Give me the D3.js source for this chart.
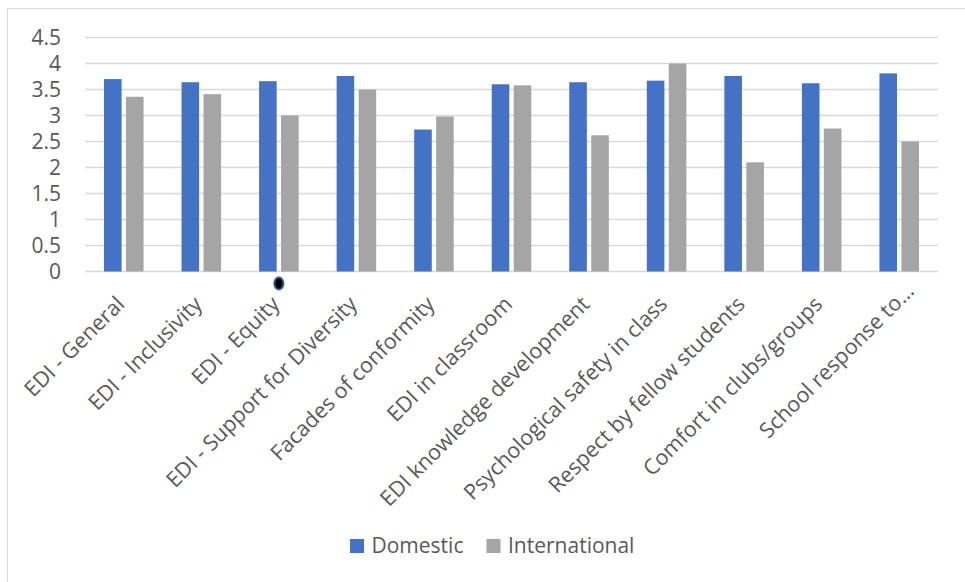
<!DOCTYPE html>
<html>
<head>
<meta charset="utf-8">
<script src="https://cdn.jsdelivr.net/npm/d3@7"></script>
<style>
  body { margin: 0; background: #fff; }
  text { font-family: "Open Sans", "Noto Sans", sans-serif; fill: #595959; }
</style>
</head>
<body>
<svg id="chart"></svg>
<script>
const categories = [
    "EDI - General", "EDI - Inclusivity", "EDI - Equity", "EDI - Support for Diversity",
    "Facades of conformity", "EDI in classroom", "EDI knowledge development",
    "Psychological safety in class", "Respect by fellow students",
    "Comfort in clubs/groups", "School response to…"
];
const domestic = [3.70, 3.64, 3.66, 3.76, 2.73, 3.60, 3.64, 3.67, 3.76, 3.62, 3.81];
const international = [3.36, 3.41, 3.00, 3.50, 2.98, 3.58, 2.62, 4.00, 2.10, 2.75, 2.50];
const seriesNames = ["Domestic", "International"];
const yTicks = [0, 0.5, 1, 1.5, 2, 2.5, 3, 3.5, 4, 4.5];

const colors = {Domestic: "#4472C4", International: "#A5A5A5"};

const W = 965, H = 582;
const plot = {left: 85, right: 938, top: 37.5, bottom: 271.5};

const svg = d3.select("#chart").attr("width", W).attr("height", H);

// chart frame
svg.append("rect")
    .attr("x", 7.5).attr("y", 8.5)
    .attr("width", W).attr("height", H)
    .attr("fill", "none")
    .attr("stroke", "#D9D9D9");

const x = d3.scaleBand()
    .domain(categories)
    .range([plot.left, plot.right])
    .paddingInner(0.49)
    .paddingOuter(0.245);

const xs = d3.scaleBand()
    .domain(seriesNames)
    .range([0, x.bandwidth()])
    .paddingInner(0.2);

const y = d3.scaleLinear().domain([0, 4.5]).range([plot.bottom, plot.top]);

// gridlines
svg.append("g")
    .selectAll("line")
    .data(yTicks)
    .join("line")
    .attr("x1", plot.left).attr("x2", plot.right)
    .attr("y1", d => y(d)).attr("y2", d => y(d))
    .attr("stroke", "#D9D9D9")
    .attr("stroke-width", 1.3);

// y axis labels
const yAxis = svg.append("g")
    .attr("transform", "translate(" + (plot.left - 24) + ",0)")
    .call(d3.axisLeft(y).tickValues(yTicks).tickSize(0).tickPadding(0).tickFormat(d3.format("")));
yAxis.select(".domain").remove();
yAxis.selectAll("text")
    .style("font-family", "'Open Sans', sans-serif")
    .style("font-size", "21px")
    .attr("fill", "#595959");

// bars
const rows = categories.map((c, i) => ({cat: c, values: [
    {key: "Domestic", value: domestic[i]},
    {key: "International", value: international[i]}
]}));

svg.append("g")
    .selectAll("g")
    .data(rows)
    .join("g")
    .attr("transform", d => "translate(" + x(d.cat) + ",0)")
    .selectAll("rect")
    .data(d => d.values)
    .join("rect")
    .attr("x", d => xs(d.key))
    .attr("y", d => y(d.value))
    .attr("width", xs.bandwidth())
    .attr("height", d => y(0) - y(d.value))
    .attr("fill", d => colors[d.key]);

// x axis labels, rotated
const xAxis = svg.append("g")
    .attr("transform", "translate(0," + plot.bottom + ")")
    .call(d3.axisBottom(x).tickSize(0).tickPadding(0));
xAxis.select(".domain").remove();
xAxis.selectAll("text")
    .style("font-family", "'Open Sans', sans-serif")
    .style("font-size", "21.5px")
    .attr("fill", "#595959")
    .attr("dy", 0)
    .attr("y", 0)
    .style("text-anchor", "end")
    .attr("transform", d => {
        const dx = d.endsWith("…") ? 16 : 2;
        const dy = d.endsWith("…") ? 21 : 34;
        return "translate(" + dx + "," + dy + ") rotate(-45)";
    });

// selection handle marker under "EDI - Equity"
svg.append("ellipse")
    .attr("cx", x(categories[2]) + x.bandwidth() / 2)
    .attr("cy", plot.bottom + 12)
    .attr("rx", 4.5).attr("ry", 6)
    .attr("fill", "#000")
    .attr("stroke", "#2F5597")
    .attr("stroke-width", 2);

// legend
const legend = svg.append("g").attr("transform", "translate(350,539)");
const legendX = d3.scaleOrdinal().domain(seriesNames).range([0, 136.5]);
const item = legend.selectAll("g")
    .data(seriesNames)
    .join("g")
    .attr("transform", d => "translate(" + legendX(d) + ",0)");
item.append("rect")
    .attr("width", 14).attr("height", 14)
    .attr("fill", d => colors[d]);
item.append("text")
    .attr("x", 21.5)
    .attr("y", 14)
    .style("font-size", "21px")
    .text(d => d);
</script>
</body>
</html>
